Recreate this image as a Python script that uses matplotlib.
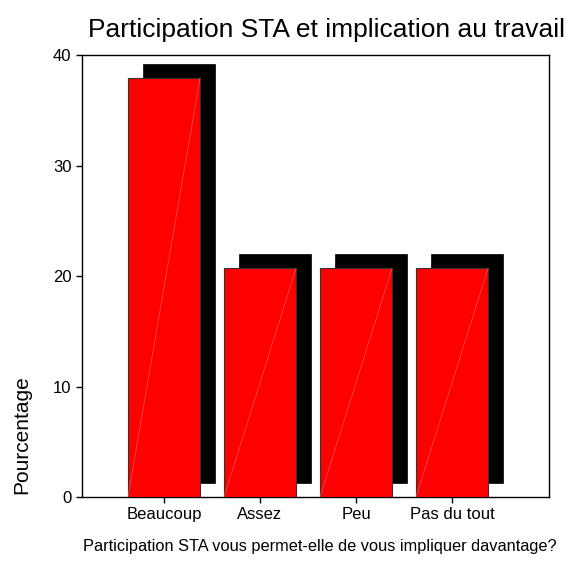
import matplotlib
matplotlib.use("Agg")
import matplotlib.pyplot as plt
import matplotlib.transforms as mtransforms

categories = ["Beaucoup", "Assez", "Peu", "Pas du tout"]
pourcentages = [37.93, 20.69, 20.69, 20.69]
yticks = [0, 10, 20, 30, 40]

plt.rcParams['font.family'] = ['Liberation Sans', 'DejaVu Sans']

fig = plt.figure(figsize=(5.71, 5.77), dpi=100)
ax = fig.add_axes([0.1436, 0.1386, 0.8179, 0.7660])

x = list(range(len(categories)))
width = 0.75

# ombre noire decalee (effet 3D)
shift = mtransforms.ScaledTranslation(15 / 100, 14 / 100, fig.dpi_scale_trans)
ax.bar(x, pourcentages, width=width, color="black", edgecolor="black",
       linewidth=0.5, transform=ax.transData + shift, zorder=2)

# barres rouges
bars = ax.bar(x, pourcentages, width=width, color="#ff0000", edgecolor="#333333",
              linewidth=0.8, zorder=3)

# fines diagonales visibles dans les barres
for b in bars:
    x0 = b.get_x()
    x1 = x0 + b.get_width()
    h = b.get_height()
    ax.plot([x0, x1], [0, h], color="#ff6a6a", linewidth=0.4, zorder=4)

ax.set_xlim(-0.854, 4.01)
ax.set_ylim(0, 40)
ax.set_xticks(x)
ax.set_xticklabels(categories, fontsize=12)
ax.set_yticks(yticks)
ax.set_yticklabels([str(v) for v in yticks], fontsize=12)
ax.tick_params(direction="out", length=4, width=1, colors="black")
for s in ax.spines.values():
    s.set_linewidth(1.0)

fig.text(327 / 571, 1 - 30 / 577, "Participation STA et implication au travail",
         ha="center", va="center", fontsize=19)
fig.text(320 / 571, 1 - 547 / 577,
         "Participation STA vous permet-elle de vous impliquer davantage?",
         ha="center", va="center", fontsize=11.8)
fig.text(22 / 571, 1 - 435 / 577, "Pourcentage", rotation=90,
         ha="center", va="center", fontsize=15)

fig.savefig("out.png", dpi=100)
